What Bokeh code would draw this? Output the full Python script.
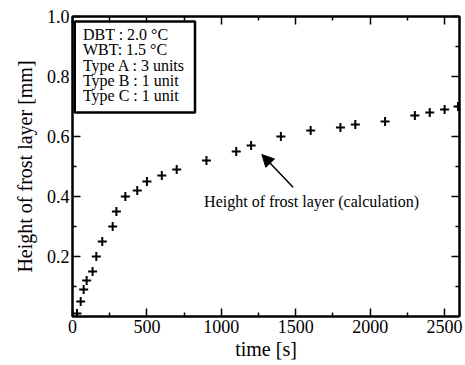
from bokeh.plotting import figure
from bokeh.models import (LinearAxis, FixedTicker, Range1d, Label, BoxAnnotation,
                          Arrow, NormalHead, ColumnDataSource)
from bokeh.embed import file_html
from bokeh.resources import INLINE

# data
time_s = [30, 55, 75, 95, 135, 160, 200, 270, 295, 355, 435, 500, 600, 700, 900,
          1100, 1200, 1400, 1600, 1800, 1900, 2100, 2300, 2400, 2500, 2590]
height_mm = [0.01, 0.05, 0.09, 0.12, 0.15, 0.20, 0.25, 0.30, 0.35, 0.40, 0.42, 0.45,
             0.47, 0.49, 0.52, 0.55, 0.57, 0.60, 0.62, 0.63, 0.64, 0.65, 0.67, 0.68,
             0.69, 0.70]
x_ticks = [0, 500, 1000, 1500, 2000, 2500]
x_minor = [250, 750, 1250, 1750, 2250]
y_ticks = [0.2, 0.4, 0.6, 0.8, 1.0]
y_minor = [0.1, 0.3, 0.5, 0.7, 0.9]
info_lines = ["DBT : 2.0 °C", "WBT: 1.5 °C", "Type A : 3 units", "Type B : 1 unit", "Type C : 1 unit"]
info_y = [0.94, 0.89, 0.837, 0.787, 0.737]
annotation_text = "Height of frost layer (calculation)"

FONT = "Liberation Serif"

p = figure(width=465, height=365, output_backend="svg", toolbar_location=None,
           x_range=Range1d(0, 2600), y_range=Range1d(0, 1.0),
           frame_width=387, frame_height=300,
           min_border_left=72, min_border_right=6, min_border_top=16, min_border_bottom=49,
           x_axis_location=None, y_axis_location=None)
p.grid.visible = False
p.outline_line_color = "black"
p.outline_line_width = 2
p.background_fill_color = "white"
p.border_fill_color = "white"

def style(ax):
    ax.axis_line_color = "black"
    ax.axis_line_width = 2
    ax.major_tick_in = 8
    ax.major_tick_out = 0
    ax.minor_tick_in = 4
    ax.minor_tick_out = 0
    ax.major_tick_line_width = 1.5
    ax.minor_tick_line_width = 1.5
    ax.major_label_text_font = FONT
    ax.major_label_text_font_size = "18px"
    ax.major_label_text_color = "black"
    ax.axis_label_text_font = FONT
    ax.axis_label_text_font_size = "20px"
    ax.axis_label_text_font_style = "normal"
    ax.axis_label_text_color = "black"

xb = LinearAxis(ticker=FixedTicker(ticks=x_ticks, minor_ticks=x_minor), axis_label="time [s]")
style(xb)
xb.major_label_standoff = 3
xb.axis_label_standoff = 2
p.add_layout(xb, "below")

yl = LinearAxis(ticker=FixedTicker(ticks=y_ticks, minor_ticks=y_minor),
                axis_label="Height of frost layer [mm]")
style(yl)
yl.major_label_overrides = {t: f"{t:.1f}" for t in y_ticks}
yl.major_label_standoff = 3
yl.axis_label_standoff = 8
p.add_layout(yl, "left")

xt = LinearAxis(ticker=FixedTicker(ticks=x_ticks, minor_ticks=x_minor))
style(xt)
xt.major_label_overrides = {t: "" for t in x_ticks}
xt.major_label_standoff = 0
p.add_layout(xt, "above")

yr = LinearAxis(ticker=FixedTicker(ticks=y_ticks, minor_ticks=y_minor))
style(yr)
yr.major_label_overrides = {t: "" for t in y_ticks}
yr.major_label_standoff = 0
p.add_layout(yr, "right")

src = ColumnDataSource(dict(t=time_s, h=height_mm))
p.scatter("t", "h", source=src, marker="cross", size=9, line_width=2, line_color="black")

# info box
p.add_layout(BoxAnnotation(left=15, right=823, bottom=0.68, top=0.983,
                           fill_color="white", fill_alpha=1.0,
                           line_color="black", line_alpha=1.0, line_width=2.5))
for txt, yy in zip(info_lines, info_y):
    p.add_layout(Label(x=70, y=yy, text=txt, text_font=FONT, text_font_size="16px",
                       text_baseline="middle", text_color="black"))

# annotation
p.add_layout(Label(x=884, y=0.384, text=annotation_text, text_font=FONT,
                   text_font_size="16px", text_baseline="middle", text_color="black"))
p.add_layout(Arrow(end=NormalHead(size=12, fill_color="black", line_color="black"),
                   x_start=1482, y_start=0.431, x_end=1272, y_end=0.54,
                   line_width=1.5, line_color="black"))

open("out.html", "w").write(file_html(p, INLINE))
